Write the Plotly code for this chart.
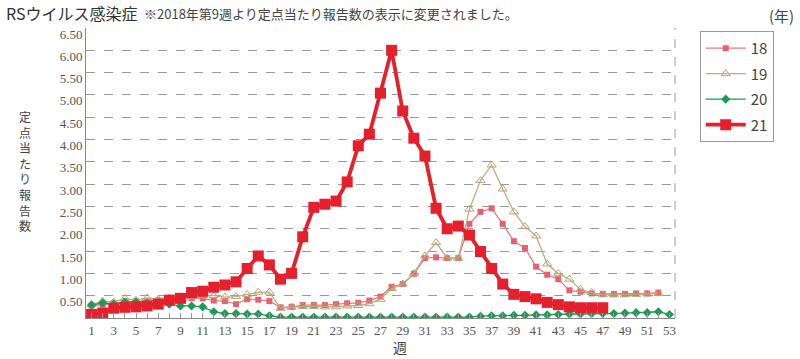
import plotly.graph_objects as go

weeks53 = list(range(1, 54))
weeks52 = list(range(1, 53))
weeks47 = list(range(1, 48))

s18 = [0.28, 0.30, 0.33, 0.35, 0.37, 0.38, 0.40, 0.42, 0.45,
       0.44, 0.44, 0.39, 0.38, 0.31, 0.42, 0.41, 0.38, 0.24, 0.25, 0.29, 0.29,
       0.29, 0.31, 0.33, 0.34, 0.39, 0.48, 0.70, 0.76, 0.99,
       1.34, 1.36, 1.34, 1.34, 2.11, 2.38, 2.46, 2.11, 1.72, 1.57,
       1.15, 0.97, 0.87, 0.62, 0.59, 0.55, 0.54, 0.54, 0.54, 0.55, 0.55, 0.57]
s19 = [0.30, 0.38, 0.36, 0.44, 0.40, 0.45, 0.42, 0.45, 0.44, 0.47, 0.50, 0.50, 0.47, 0.48, 0.53, 0.58, 0.58,
       0.22, 0.24, 0.26, 0.26, 0.25, 0.25, 0.27, 0.28, 0.32, 0.42, 0.66, 0.76, 1.00,
       1.39, 1.69, 1.34, 1.34, 2.44, 3.08, 3.43, 2.89, 2.38, 2.05,
       1.84, 1.21, 1.00, 0.87, 0.64, 0.57, 0.52, 0.52, 0.52, 0.53, 0.54, 0.55]
s20 = [0.29, 0.34, 0.31, 0.36, 0.36, 0.33, 0.34, 0.31, 0.27, 0.27, 0.25, 0.14, 0.10, 0.10, 0.09, 0.09, 0.05,
       0.02, 0.02, 0.02, 0.02,
       0.02, 0.02, 0.02, 0.02, 0.02, 0.02, 0.02, 0.02, 0.02, 0.02, 0.02, 0.02, 0.02, 0.02,
       0.04, 0.05, 0.05, 0.06, 0.06, 0.07, 0.07, 0.08, 0.09,
       0.09, 0.10, 0.10, 0.10, 0.11, 0.12, 0.12, 0.14, 0.08]
s21 = [0.08, 0.11, 0.22, 0.24, 0.25, 0.27, 0.31, 0.40, 0.44, 0.57, 0.60, 0.69, 0.74, 0.81,
       1.11, 1.39, 1.19, 0.87, 1.00, 1.82, 2.48, 2.55, 2.62, 3.05, 3.86, 4.12, 5.04, 6.00,
       4.64, 4.03, 3.63, 2.46, 2.00, 2.06, 1.86, 1.49, 1.11, 0.76, 0.53, 0.48, 0.43, 0.35,
       0.30, 0.25, 0.23, 0.23, 0.23]

ytickvals = [0.5, 1.0, 1.5, 2.0, 2.5, 3.0, 3.5, 4.0, 4.5, 5.0, 5.5, 6.0, 6.5]
yticktext = ["0.50", "1.00", "1.50", "2.00", "2.50", "3.00", "3.50", "4.00", "4.50", "5.00", "5.50", "6.00", "6.50"]
xtickvals = list(range(1, 54, 2))

title = "RSウイルス感染症"
note = "※2018年第9週より定点当たり報告数の表示に変更されました。"
ytitle = "定点当たり報告数"
xtitle = "週"

fig = go.Figure()
fig.add_trace(go.Scatter(x=weeks52, y=s18, name="18", mode="lines+markers", legendgroup="a",
                         line=dict(color="#e87a86", width=1.3),
                         marker=dict(symbol="square", size=6, color="#e8606e")))
fig.add_trace(go.Scatter(x=weeks52, y=s19, name="19", mode="lines+markers", legendgroup="b",
                         line=dict(color="#bcae82", width=1.3),
                         marker=dict(symbol="triangle-up-open", size=8, color="#b5a57a")))
fig.add_trace(go.Scatter(x=weeks53, y=s20, name="20", mode="lines+markers", legendgroup="c",
                         line=dict(color="#1e9a55", width=1.3),
                         marker=dict(symbol="diamond", size=7, color="#1e9a55")))
fig.add_trace(go.Scatter(x=weeks47, y=s21, name="21", mode="lines+markers", legendgroup="d",
                         line=dict(color="#e3202c", width=3.8),
                         marker=dict(symbol="square", size=11, color="#e3202c")))

serif = "Liberation Serif, DejaVu Serif, serif"
jp = "Noto Sans CJK JP, Noto Sans, sans-serif"

fig.update_layout(
    width=800, height=359,
    margin=dict(l=86, r=125, t=28, b=41),
    paper_bgcolor="white", plot_bgcolor="white",
    showlegend=True,
    legend=dict(x=1.042, y=0.99, xanchor="left", yanchor="top",
                bordercolor="#999999", borderwidth=1,
                font=dict(family=jp, size=15, color="#444444"),
                tracegroupgap=3, itemwidth=40, entrywidth=50, entrywidthmode="pixels",
                bgcolor="white"),
    xaxis=dict(range=[0.5, 53.5], tickmode="array", tickvals=xtickvals,
               ticks="inside", ticklen=5, tickcolor="#999999",
               showgrid=False, showline=True, linecolor="#888888", linewidth=1,
               tickfont=dict(family=serif, size=13, color="#555555"),
               minor=dict(dtick=1, tick0=0, ticks="inside", ticklen=5, tickcolor="#999999", showgrid=False),
               zeroline=False, fixedrange=True),
    yaxis=dict(range=[0, 6.5], tickmode="array", tickvals=ytickvals, ticktext=yticktext,
               showgrid=True, gridcolor="#9a9a9a", griddash="dash", gridwidth=1,
               showline=True, linecolor="#888888", linewidth=1,
               ticks="", ticklabelshift=6,
               tickfont=dict(family=serif, size=13, color="#555555"),
               zeroline=False, fixedrange=True),
    shapes=[dict(type="line", xref="paper", yref="paper", x0=1, x1=1, y0=0, y1=1,
                 line=dict(color="#9a9a9a", width=1, dash="dash"))],
)

annotations = [
    dict(text=title, xref="paper", yref="paper", x=(4 - 86) / 589, y=(318 - 13) / 290,
         xanchor="left", yanchor="middle", showarrow=False,
         font=dict(family=jp, size=16, color="#333333")),
    dict(text=note, xref="paper", yref="paper", x=(142 - 86) / 589, y=(318 - 14) / 290,
         xanchor="left", yanchor="middle", showarrow=False,
         font=dict(family=jp, size=13, color="#444444")),
    dict(text="(年)", xref="paper", yref="paper", x=(796 - 86) / 589, y=(318 - 16) / 290,
         xanchor="right", yanchor="middle", showarrow=False,
         font=dict(family=jp, size=15, color="#444444")),
    dict(text=xtitle, xref="paper", yref="paper", x=(400 - 86) / 589, y=(318 - 347) / 290,
         xanchor="center", yanchor="middle", showarrow=False,
         font=dict(family=jp, size=14, color="#444444")),
    dict(text="<br>".join(ytitle), xref="paper", yref="paper", x=(25 - 86) / 589, y=(318 - 171) / 290,
         xanchor="center", yanchor="middle", showarrow=False,
         font=dict(family=jp, size=12, color="#444444")),
]
fig.update_layout(annotations=annotations)

fig.write_html("out.html", config={"displayModeBar": False},
               post_script="document.body.style.margin='0px';document.body.style.padding='0px';")
